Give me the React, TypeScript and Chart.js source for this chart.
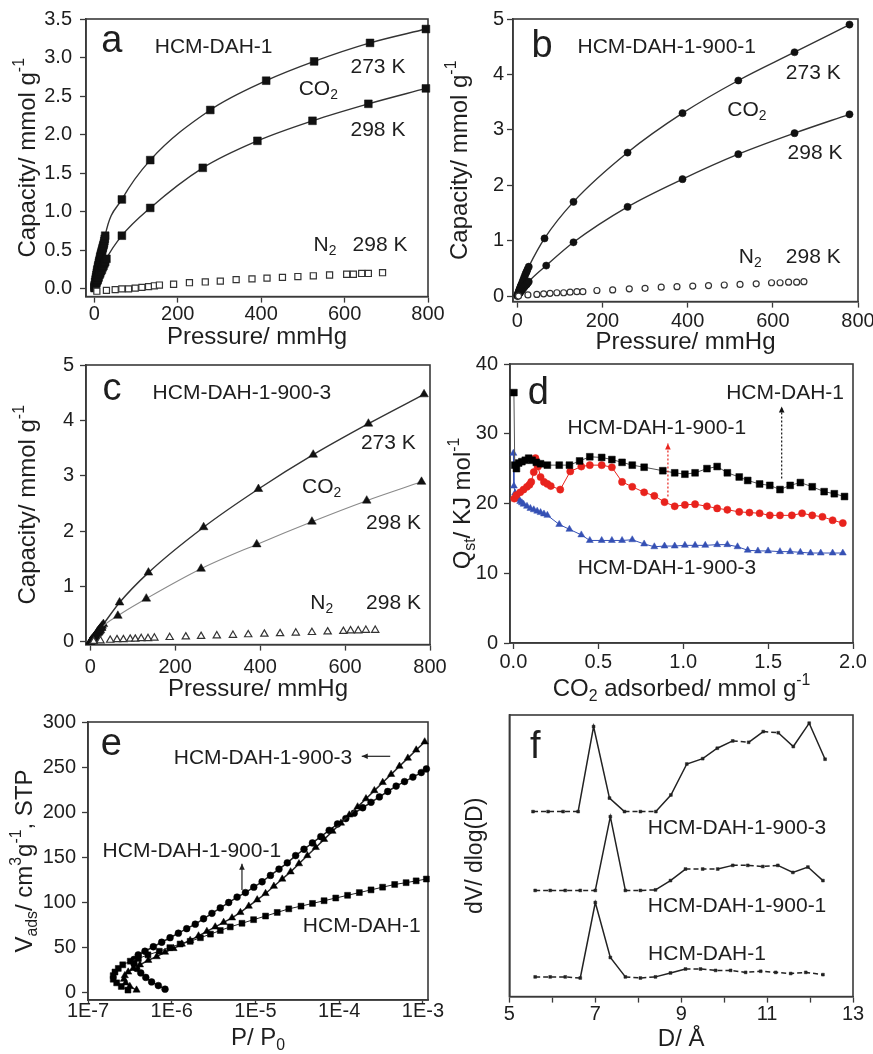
import React, { useEffect, useRef } from 'react';
import { Chart, registerables } from 'chart.js';

Chart.register(...registerables);

const FONT = '"Liberation Sans", Arial, Helvetica, sans-serif';
const INK = '#1e1e1e';
const AXIS = '#3a3a3a';
const RED = '#e8231d';
const BLUE = '#3550b4';

// ---------- Panel a : HCM-DAH-1 ----------
const a273P = [0.5, 1, 2, 3, 4, 5, 6, 7, 8, 9, 10, 11, 12, 13, 14, 15, 16, 17, 18, 19, 20, 21, 22, 23, 24, 25, 26, 66, 134, 278, 412, 527, 661, 795];
const a273Q = [0.03, 0.05, 0.09, 0.12, 0.15, 0.18, 0.21, 0.24, 0.26, 0.29, 0.31, 0.34, 0.36, 0.38, 0.41, 0.43, 0.45, 0.47, 0.49, 0.51, 0.53, 0.55, 0.57, 0.59, 0.62, 0.65, 0.69, 1.16, 1.67, 2.32, 2.70, 2.95, 3.19, 3.37];
const a298P = [0.5, 1, 2, 3, 4, 5, 6, 7, 8, 9, 10, 12, 14, 16, 18, 20, 22, 24, 26, 29, 66, 134, 260, 391, 523, 657, 795];
const a298Q = [0.01, 0.02, 0.04, 0.05, 0.07, 0.08, 0.1, 0.11, 0.12, 0.14, 0.15, 0.18, 0.2, 0.23, 0.25, 0.28, 0.3, 0.33, 0.35, 0.39, 0.69, 1.05, 1.57, 1.92, 2.18, 2.40, 2.60];
const aN2P = [6, 29, 50, 66, 82, 98, 114, 130, 144, 156, 190, 228, 266, 302, 340, 378, 414, 451, 488, 525, 564, 605, 621, 641, 657, 691];
const aN2Q = [-0.03, -0.02, -0.01, 0.0, 0.0, 0.01, 0.02, 0.03, 0.04, 0.05, 0.06, 0.08, 0.09, 0.1, 0.12, 0.13, 0.14, 0.15, 0.16, 0.17, 0.18, 0.19, 0.19, 0.2, 0.2, 0.21];
const aYTicks = [0, 0.5, 1, 1.5, 2, 2.5, 3, 3.5];
const aYLabels = ['0.0', '0.5', '1.0', '1.5', '2.0', '2.5', '3.0', '3.5'];
const pressureTicks = [0, 200, 400, 600, 800];
const pressureLabels = ['0', '200', '400', '600', '800'];

// ---------- Panel b : HCM-DAH-1-900-1 ----------
const b273P = [0.5, 1, 2, 3, 4, 5, 6, 7, 8, 9, 10, 12, 14, 16, 18, 20, 22, 24, 27, 64, 132, 259, 388, 519, 651, 780];
const b273Q = [0.01, 0.03, 0.05, 0.07, 0.09, 0.11, 0.13, 0.15, 0.17, 0.19, 0.21, 0.25, 0.29, 0.33, 0.37, 0.41, 0.44, 0.48, 0.53, 1.04, 1.70, 2.59, 3.30, 3.89, 4.40, 4.90];
const b298P = [0.5, 1, 2, 3, 4, 5, 6, 8, 10, 12, 14, 16, 18, 20, 22, 24, 27, 68, 132, 259, 388, 519, 651, 780];
const b298Q = [0.0, 0.01, 0.02, 0.03, 0.04, 0.05, 0.06, 0.08, 0.1, 0.12, 0.14, 0.16, 0.18, 0.2, 0.21, 0.23, 0.26, 0.55, 0.97, 1.61, 2.11, 2.56, 2.94, 3.28];
const bN2P = [3, 25, 46, 62, 77, 93, 109, 124, 140, 154, 187, 224, 263, 300, 338, 375, 412, 449, 486, 523, 561, 597, 617, 637, 656, 673];
const bN2Q = [0.0, 0.02, 0.03, 0.04, 0.05, 0.06, 0.06, 0.07, 0.08, 0.08, 0.1, 0.11, 0.13, 0.14, 0.16, 0.17, 0.18, 0.19, 0.2, 0.21, 0.22, 0.24, 0.24, 0.25, 0.25, 0.26];
const capTicks = [0, 1, 2, 3, 4, 5];
const capLabels = ['0', '1', '2', '3', '4', '5'];

// ---------- Panel c : HCM-DAH-1-900-3 ----------
const c273P = [0.5, 1, 2, 3, 4, 5, 6, 8, 10, 12, 14, 16, 18, 20, 22, 24, 26, 28, 31, 69, 137, 267, 396, 525, 655, 786];
const c273Q = [0.0, 0.01, 0.02, 0.03, 0.04, 0.05, 0.06, 0.08, 0.1, 0.12, 0.14, 0.17, 0.19, 0.21, 0.23, 0.25, 0.27, 0.29, 0.32, 0.71, 1.25, 2.07, 2.76, 3.38, 3.94, 4.47];
const c298P = [0.5, 1, 2, 4, 6, 8, 10, 12, 14, 16, 18, 20, 22, 24, 27, 65, 132, 261, 392, 522, 651, 780];
const c298Q = [0.0, 0.01, 0.02, 0.03, 0.05, 0.07, 0.09, 0.1, 0.12, 0.14, 0.16, 0.17, 0.19, 0.21, 0.25, 0.47, 0.78, 1.32, 1.76, 2.17, 2.55, 2.89];
const cN2P = [8, 24, 47, 63, 78, 94, 106, 120, 136, 151, 187, 225, 261, 298, 336, 372, 410, 447, 484, 522, 559, 596, 613, 631, 649, 671];
const cN2Q = [0.01, 0.02, 0.03, 0.04, 0.04, 0.05, 0.05, 0.06, 0.06, 0.07, 0.08, 0.09, 0.1, 0.11, 0.12, 0.13, 0.14, 0.15, 0.16, 0.17, 0.18, 0.19, 0.2, 0.2, 0.21, 0.21];

// ---------- Panel d : isosteric heat ----------
const dDahX = [0.003, 0.008, 0.018, 0.031, 0.05, 0.07, 0.09, 0.11, 0.135, 0.16, 0.2, 0.27, 0.33, 0.39, 0.45, 0.52, 0.58, 0.64, 0.70, 0.77, 0.88, 0.95, 1.01, 1.07, 1.14, 1.20, 1.26, 1.33, 1.38, 1.45, 1.51, 1.57, 1.63, 1.69, 1.76, 1.83, 1.89, 1.95];
const dDahQ = [35.9, 25.5, 25.0, 25.8, 26.0, 26.2, 26.5, 26.2, 25.9, 25.7, 25.5, 25.5, 25.5, 26.1, 26.7, 26.6, 26.3, 25.9, 25.5, 25.2, 24.7, 24.4, 24.2, 24.4, 25.0, 25.3, 24.4, 23.8, 23.3, 22.8, 22.6, 22.0, 22.6, 23.0, 22.4, 21.7, 21.4, 21.0];
const d901X = [0.005, 0.018, 0.04, 0.06, 0.08, 0.095, 0.105, 0.12, 0.13, 0.145, 0.16, 0.18, 0.2, 0.22, 0.276, 0.335, 0.40, 0.45, 0.52, 0.58, 0.64, 0.70, 0.77, 0.83, 0.89, 0.95, 1.01, 1.07, 1.14, 1.20, 1.26, 1.33, 1.39, 1.45, 1.51, 1.57, 1.64, 1.70, 1.76, 1.82, 1.88, 1.94];
const d901Q = [20.7, 21.2, 21.6, 22.0, 22.4, 22.7, 23.1, 24.5, 26.5, 25.3, 23.8, 23.1, 22.8, 22.5, 22.0, 24.6, 25.3, 25.5, 25.5, 25.2, 23.1, 22.4, 21.6, 21.1, 20.2, 19.6, 19.8, 19.9, 19.6, 19.3, 19.1, 18.8, 18.7, 18.6, 18.3, 18.3, 18.3, 18.6, 18.3, 18.1, 17.6, 17.2];
const d903X = [0.0, 0.003, 0.01, 0.02, 0.03, 0.04, 0.05, 0.06, 0.08, 0.1, 0.12, 0.14, 0.16, 0.18, 0.2, 0.27, 0.33, 0.40, 0.45, 0.52, 0.58, 0.64, 0.70, 0.77, 0.83, 0.89, 0.95, 1.01, 1.07, 1.13, 1.20, 1.26, 1.32, 1.38, 1.44, 1.50, 1.57, 1.63, 1.69, 1.75, 1.81, 1.88, 1.94];
const d903Q = [27.2, 22.5, 21.5, 21.0, 20.6, 20.3, 20.1, 19.9, 19.6, 19.3, 19.1, 18.9, 18.7, 18.5, 18.3, 17.0, 16.3, 15.5, 14.7, 14.7, 14.7, 14.7, 14.8, 14.2, 13.8, 13.9, 13.9, 14.0, 14.0, 14.0, 14.1, 14.1, 13.8, 13.3, 13.2, 13.2, 13.1, 13.1, 13.0, 12.9, 12.9, 12.9, 12.9];
const dYTicks = [0, 10, 20, 30, 40];
const dYLabels = ['0', '10', '20', '30', '40'];
const dXTicks = [0, 0.5, 1, 1.5, 2];
const dXLabels = ['0.0', '0.5', '1.0', '1.5', '2.0'];

// ---------- Panel e : low-pressure N2 isotherms (log P) ----------
const eDahP = [3.0e-7, 2.5e-7, 2.2e-7, 2.0e-7, 2.0e-7, 2.1e-7, 2.3e-7, 2.6e-7, 3.2e-7, 4.0e-7, 5.2e-7, 7.1e-7, 9.5e-7, 1.26e-6, 1.66e-6, 2.2e-6, 2.9e-6, 3.8e-6, 5.0e-6, 6.9e-6, 9.5e-6, 1.32e-5, 1.82e-5, 2.5e-5, 3.5e-5, 4.8e-5, 6.6e-5, 9.1e-5, 1.26e-4, 1.74e-4, 2.4e-4, 3.3e-4, 4.6e-4, 6.3e-4, 8.3e-4, 1.1e-3];
const eDahV = [3, 7, 11, 15, 19, 23, 27, 31, 35, 38, 42, 46, 50, 54, 57, 61, 65, 69, 73, 77, 81, 85, 89, 93, 96, 99, 102, 105, 108, 111, 114, 117, 120, 122, 124, 126];
const e901P = [8.32e-7, 6.92e-7, 5.75e-7, 4.9e-7, 4.27e-7, 3.8e-7, 3.55e-7, 3.55e-7, 3.98e-7, 4.79e-7, 6.03e-7, 7.59e-7, 9.55e-7, 1.2e-6, 1.51e-6, 1.91e-6, 2.4e-6, 3.02e-6, 3.8e-6, 4.79e-6, 6.03e-6, 7.59e-6, 9.55e-6, 1.2e-5, 1.51e-5, 1.91e-5, 2.4e-5, 3.02e-5, 3.8e-5, 4.79e-5, 6.03e-5, 7.59e-5, 9.55e-5, 1.2e-4, 1.51e-4, 1.91e-4, 2.4e-4, 3.02e-4, 3.8e-4, 4.79e-4, 6.03e-4, 7.59e-4, 9.55e-4, 1.1e-3];
const e901V = [4, 8, 12, 17, 22, 27, 32, 37, 42, 46, 51, 56, 61, 66, 71, 76, 82, 88, 94, 100, 106, 111, 117, 123, 130, 137, 144, 152, 159, 166, 173, 180, 187, 193, 199, 205, 211, 217, 223, 229, 234, 239, 244, 248];
const e903P = [3.8e-7, 3.16e-7, 2.82e-7, 2.69e-7, 2.75e-7, 3.02e-7, 3.47e-7, 4.17e-7, 5.25e-7, 6.61e-7, 8.32e-7, 1.05e-6, 1.32e-6, 1.66e-6, 2.09e-6, 2.63e-6, 3.31e-6, 4.17e-6, 5.25e-6, 6.61e-6, 8.32e-6, 1.05e-5, 1.32e-5, 1.66e-5, 2.09e-5, 2.63e-5, 3.31e-5, 4.17e-5, 5.25e-5, 6.61e-5, 8.32e-5, 1.05e-4, 1.32e-4, 1.66e-4, 2.09e-4, 2.63e-4, 3.31e-4, 4.17e-4, 5.25e-4, 6.61e-4, 8.32e-4, 1.05e-3];
const e903V = [3, 7, 11, 15, 19, 23, 27, 31, 36, 40, 45, 49, 54, 58, 63, 68, 73, 78, 83, 89, 96, 103, 110, 118, 126, 134, 143, 152, 161, 170, 179, 188, 197, 206, 215, 224, 233, 242, 251, 260, 269, 278];
const eXTicks = [1e-7, 1e-6, 1e-5, 1e-4, 1e-3];
const eXLabels = ['1E-7', '1E-6', '1E-5', '1E-4', '1E-3'];
const eYTicks = [0, 50, 100, 150, 200, 250, 300];
const eYLabels = ['0', '50', '100', '150', '200', '250', '300'];

// ---------- Panel f : pore size distribution ----------
const f903D = [5.55, 5.9, 6.25, 6.6, 6.96, 7.33, 7.68, 8.05, 8.41, 8.76, 9.13, 9.5, 9.84, 10.2, 10.57, 10.91, 11.26, 11.61, 11.98, 12.35];
const f903V = [65.7, 65.7, 65.7, 65.7, 95.9, 70.5, 65.7, 65.7, 65.7, 71.6, 82.6, 84.5, 88.2, 90.8, 90.3, 94.1, 93.7, 88.8, 97.1, 84.3];
const f901D = [5.6, 5.95, 6.3, 6.65, 7.0, 7.35, 7.7, 8.05, 8.4, 8.75, 9.1, 9.5, 9.85, 10.2, 10.55, 10.9, 11.25, 11.6, 11.95, 12.3];
const f901V = [37.7, 37.7, 37.7, 37.7, 37.7, 63.9, 37.7, 37.7, 37.9, 41.2, 45.3, 45.3, 45.3, 46.6, 46.6, 46.2, 46.6, 44.1, 46.0, 41.2];
const fDahD = [5.6, 5.95, 6.3, 6.65, 7.0, 7.35, 7.7, 8.05, 8.4, 8.75, 9.1, 9.45, 9.8, 10.15, 10.5, 10.85, 11.2, 11.55, 11.9, 12.3];
const fDahV = [7.0, 7.0, 7.0, 6.6, 33.4, 13.9, 7.0, 6.6, 7.0, 8.4, 9.8, 9.8, 9.3, 9.3, 8.6, 9.0, 8.6, 8.2, 8.6, 7.8];
const fXTicks = [5, 6, 7, 8, 9, 10, 11, 12, 13];
const fXLabels = ['5', '', '7', '', '9', '', '11', '', '13'];

// ---------- helpers ----------
const pts = (xs: number[], ys: number[]) => xs.map((x, i) => ({ x, y: ys[i] }));

type Seg = { t: string; k: number };
function parseRich(s: string): Seg[] {
  const out: Seg[] = [];
  const re = /([_^])\{([^}]*)\}/g;
  let last = 0;
  let m: RegExpExecArray | null;
  while ((m = re.exec(s))) {
    if (m.index > last) out.push({ t: s.slice(last, m.index), k: 0 });
    out.push({ t: m[2], k: m[1] === '_' ? -1 : 1 });
    last = re.lastIndex;
  }
  if (last < s.length) out.push({ t: s.slice(last), k: 0 });
  return out;
}

function drawRich(ctx: CanvasRenderingContext2D, text: string, x: number, y: number, size: number, rot = 0, color = INK) {
  const segs = parseRich(text);
  const small = size * 0.66;
  ctx.save();
  ctx.translate(x, y);
  ctx.rotate(rot);
  ctx.fillStyle = color;
  ctx.textBaseline = 'middle';
  ctx.textAlign = 'left';
  let total = 0;
  const widths = segs.map((sg) => {
    ctx.font = `${sg.k ? small : size}px ${FONT}`;
    const w = ctx.measureText(sg.t).width;
    total += w;
    return w;
  });
  let cx = -total / 2;
  segs.forEach((sg, i) => {
    ctx.font = `${sg.k ? small : size}px ${FONT}`;
    const dy = sg.k === -1 ? size * 0.3 : sg.k === 1 ? -size * 0.36 : 0;
    ctx.fillText(sg.t, cx, dy);
    cx += widths[i];
  });
  ctx.restore();
}

type Note = { x: number; y: number; text: string; size?: number; color?: string };
type Arrow = { x0: number; y0: number; x1: number; y1: number; color: string; dash?: number[] };
type Overlay = {
  notes: Note[];
  arrows?: Arrow[];
  yTitle?: { text: string; offset: number };
  xTitle?: { text: string; offset: number };
};

function overlayPlugin(ov: Overlay) {
  return {
    id: 'overlay',
    beforeDatasetsDraw(chart: any) {
      const { ctx, chartArea: ca } = chart;
      ctx.save();
      ctx.strokeStyle = AXIS;
      ctx.lineWidth = 1.6;
      ctx.strokeRect(ca.left, ca.top, ca.right - ca.left, ca.bottom - ca.top);
      ctx.restore();
    },
    afterDatasetsDraw(chart: any) {
      const { ctx, chartArea: ca, scales } = chart;
      const xs = scales.x;
      const ys = scales.y;
      (ov.arrows || []).forEach((a) => {
        const x0 = xs.getPixelForValue(a.x0);
        const y0 = ys.getPixelForValue(a.y0);
        const x1 = xs.getPixelForValue(a.x1);
        const y1 = ys.getPixelForValue(a.y1);
        ctx.save();
        ctx.strokeStyle = a.color;
        ctx.fillStyle = a.color;
        ctx.lineWidth = 1.2;
        ctx.setLineDash(a.dash || []);
        ctx.beginPath();
        ctx.moveTo(x0, y0);
        ctx.lineTo(x1, y1);
        ctx.stroke();
        ctx.setLineDash([]);
        const ang = Math.atan2(y1 - y0, x1 - x0);
        const L = 6;
        const Wd = 2.8;
        ctx.beginPath();
        ctx.moveTo(x1, y1);
        ctx.lineTo(x1 - L * Math.cos(ang) + Wd * Math.sin(ang), y1 - L * Math.sin(ang) - Wd * Math.cos(ang));
        ctx.lineTo(x1 - L * Math.cos(ang) - Wd * Math.sin(ang), y1 - L * Math.sin(ang) + Wd * Math.cos(ang));
        ctx.closePath();
        ctx.fill();
        ctx.restore();
      });
      ov.notes.forEach((n) => {
        drawRich(ctx, n.text, xs.getPixelForValue(n.x), ys.getPixelForValue(n.y), n.size || 21, 0, n.color || INK);
      });
      if (ov.yTitle) {
        drawRich(ctx, ov.yTitle.text, ca.left - ov.yTitle.offset, (ca.top + ca.bottom) / 2, 24, -Math.PI / 2);
      }
      if (ov.xTitle) {
        drawRich(ctx, ov.xTitle.text, (ca.left + ca.right) / 2, ca.bottom + ov.xTitle.offset, 24, 0);
      }
    },
  };
}

type AxisOpt = {
  type?: string;
  min: number;
  max: number;
  vals: number[];
  labels?: string[];
  pad?: number;
  tickLen?: number;
  title?: string;
};

function axis(o: AxisOpt) {
  const tl = o.tickLen ?? 6;
  return {
    type: o.type || 'linear',
    min: o.min,
    max: o.max,
    afterBuildTicks: (s: any) => {
      s.ticks = o.vals.map((v) => ({ value: v }));
    },
    ticks: {
      display: !!o.labels,
      callback: (_v: any, i: number) => (o.labels ? o.labels[i] : ''),
      font: { family: FONT, size: 20 },
      color: INK,
      padding: o.pad ?? 3,
      maxRotation: 0,
      autoSkip: false,
      includeBounds: false,
    },
    grid: {
      display: true,
      drawOnChartArea: false,
      drawTicks: tl > 0,
      tickLength: tl,
      tickColor: AXIS,
      tickWidth: 1.3,
    },
    border: { display: true, color: AXIS, width: 1.6 },
    title: o.title
      ? { display: true, text: o.title, font: { family: FONT, size: 24 }, color: INK, padding: 0 }
      : { display: false },
  };
}

const filled = (style: string, r: number, color = '#111') => ({
  pointStyle: style,
  pointRadius: r,
  pointBackgroundColor: color,
  pointBorderColor: color,
  pointBorderWidth: 0.5,
});
const hollow = (style: string, r: number) => ({
  pointStyle: style,
  pointRadius: r,
  pointBackgroundColor: '#fff',
  pointBorderColor: '#333',
  pointBorderWidth: 1.2,
});

function isoConfig(
  style: string,
  rFill: number,
  rOpen: number,
  s273: { x: number; y: number }[],
  s298: { x: number; y: number }[],
  sN2: { x: number; y: number }[],
  yOpt: AxisOpt,
  xOpt: AxisOpt,
  ov: Overlay,
  c298 = '#333',
  w298 = 1.4
) {
  return {
    type: 'scatter',
    data: {
      datasets: [
        { data: sN2, showLine: false, clip: false, ...hollow(style, rOpen) },
        {
          data: s298, showLine: true, clip: false, borderColor: c298, borderWidth: w298,
          cubicInterpolationMode: 'monotone', ...filled(style, rFill),
        },
        {
          data: s273, showLine: true, clip: false, borderColor: '#333', borderWidth: 1.4,
          cubicInterpolationMode: 'monotone', ...filled(style, rFill),
        },
      ],
    },
    options: { scales: { x: axis(xOpt), y: axis(yOpt) } },
    plugins: [overlayPlugin(ov)],
  };
}

type Spec = { L: number; T: number; R: number; B: number; W: number; H: number; build: () => any };

const PADT = 20;
const PADR = 30;
const PADB = 4;

function Panel({ spec }: { spec: Spec }) {
  const ref = useRef<HTMLCanvasElement>(null);
  const width = Math.round(spec.W + (spec.R - spec.L) + PADR);
  const height = Math.round(PADT + (spec.B - spec.T) + spec.H + PADB);
  useEffect(() => {
    const cfg = spec.build();
    cfg.options = {
      ...cfg.options,
      responsive: false,
      maintainAspectRatio: false,
      animation: false,
      devicePixelRatio: 1,
      events: [],
      layout: { padding: { top: PADT, right: PADR, bottom: PADB, left: 0 } },
      plugins: { legend: { display: false }, tooltip: { enabled: false } },
    };
    cfg.options.scales.x.afterFit = (s: any) => {
      s.height = spec.H;
    };
    cfg.options.scales.y.afterFit = (s: any) => {
      s.width = spec.W;
    };
    const chart = new Chart(ref.current as HTMLCanvasElement, cfg);
    return () => chart.destroy();
  }, []);
  return (
    <canvas
      ref={ref}
      width={width}
      height={height}
      style={{ position: 'absolute', left: Math.round(spec.L - spec.W), top: spec.T - PADT, width, height }}
    />
  );
}

const CAP = 'Capacity/ mmol g^{-1}';

const specs: Spec[] = [
  {
    L: 86, T: 19, R: 428, B: 297, W: 80, H: 55.4,
    build: () =>
      isoConfig(
        'rect', 5.5, 4.3,
        pts(a273P, a273Q), pts(a298P, a298Q), pts(aN2P, aN2Q),
        { min: -0.1, max: 3.5, vals: aYTicks, labels: aYLabels, pad: 8 },
        { min: -20, max: 800, vals: pressureTicks, labels: pressureLabels, pad: 0, title: 'Pressure/ mmHg' },
        {
          yTitle: { text: CAP, offset: 58 },
          notes: [
            { x: 42, y: 3.21, text: 'a', size: 38 },
            { x: 286, y: 3.14, text: 'HCM-DAH-1' },
            { x: 680, y: 2.88, text: '273 K' },
            { x: 537, y: 2.59, text: 'CO_{2}' },
            { x: 680, y: 2.06, text: '298 K' },
            { x: 553, y: 0.57, text: 'N_{2}' },
            { x: 685, y: 0.57, text: '298 K' },
          ],
        }
      ),
  },
  {
    L: 513, T: 19, R: 858, B: 302, W: 80, H: 55.4,
    build: () =>
      isoConfig(
        'circle', 3.6, 3.0,
        pts(b273P, b273Q), pts(b298P, b298Q), pts(bN2P, bN2Q),
        { min: -0.1, max: 5, vals: capTicks, labels: capLabels, pad: 3 },
        { min: -10, max: 800, vals: pressureTicks, labels: pressureLabels, pad: 2, title: 'Pressure/ mmHg' },
        {
          yTitle: { text: CAP, offset: 53 },
          notes: [
            { x: 58, y: 4.5, text: 'b', size: 38 },
            { x: 351, y: 4.5, text: 'HCM-DAH-1-900-1' },
            { x: 695, y: 4.02, text: '273 K' },
            { x: 539, y: 3.36, text: 'CO_{2}' },
            { x: 699, y: 2.58, text: '298 K' },
            { x: 547, y: 0.71, text: 'N_{2}' },
            { x: 695, y: 0.71, text: '298 K' },
          ],
        }
      ),
  },
  {
    L: 86, T: 365, R: 430, B: 645, W: 80, H: 59.4,
    build: () =>
      isoConfig(
        'triangle', 5, 4.2,
        pts(c273P, c273Q), pts(c298P, c298Q), pts(cN2P, cN2Q),
        { min: -0.05, max: 5, vals: capTicks, labels: capLabels, pad: 6 },
        { min: -10, max: 800, vals: pressureTicks, labels: pressureLabels, pad: 5, title: 'Pressure/ mmHg' },
        {
          yTitle: { text: CAP, offset: 58 },
          notes: [
            { x: 51, y: 4.55, text: 'c', size: 38 },
            { x: 357, y: 4.49, text: 'HCM-DAH-1-900-3' },
            { x: 702, y: 3.59, text: '273 K' },
            { x: 545, y: 2.8, text: 'CO_{2}' },
            { x: 714, y: 2.14, text: '298 K' },
            { x: 545, y: 0.7, text: 'N_{2}' },
            { x: 714, y: 0.7, text: '298 K' },
          ],
        },
        '#8a8a8a',
        1.1
      ),
  },
  {
    L: 510, T: 364, R: 853, B: 643, W: 80, H: 60,
    build: () => ({
      type: 'scatter',
      data: {
        datasets: [
          {
            data: pts(dDahX, dDahQ), showLine: true, clip: false, borderColor: '#555', borderWidth: 1,
            ...filled('rect', 4.8, '#000'),
          },
          {
            data: pts(d901X, d901Q), showLine: true, clip: false, borderColor: RED, borderWidth: 1,
            ...filled('circle', 3.6, RED),
          },
          {
            data: pts(d903X, d903Q), showLine: true, clip: false, borderColor: BLUE, borderWidth: 1,
            ...filled('triangle', 4, BLUE),
          },
        ],
      },
      options: {
        scales: {
          x: axis({ min: -0.02, max: 2, vals: dXTicks, labels: dXLabels, pad: 1 }),
          y: axis({ min: 0, max: 40, vals: dYTicks, labels: dYLabels, pad: 6 }),
        },
      },
      plugins: [
        overlayPlugin({
          yTitle: { text: 'Q_{st}/ KJ mol^{-1}', offset: 47 },
          xTitle: { text: 'CO_{2} adsorbed/ mmol g^{-1}', offset: 46 },
          notes: [
            { x: 0.147, y: 35.8, text: 'd', size: 38 },
            { x: 1.6, y: 35.8, text: 'HCM-DAH-1' },
            { x: 0.845, y: 30.8, text: 'HCM-DAH-1-900-1' },
            { x: 0.904, y: 10.7, text: 'HCM-DAH-1-900-3' },
          ],
          arrows: [
            { x0: 1.58, y0: 23.6, x1: 1.58, y1: 33.9, color: '#111', dash: [2, 2] },
            { x0: 0.91, y0: 21, x1: 0.91, y1: 28.6, color: RED, dash: [2, 2] },
          ],
        }),
      ],
    }),
  },
  {
    L: 88, T: 722, R: 428, B: 1000, W: 80, H: 50,
    build: () => ({
      type: 'scatter',
      data: {
        datasets: [
          {
            data: pts(eDahP, eDahV), showLine: true, clip: false, borderColor: '#222', borderWidth: 1,
            ...filled('rect', 4.2, '#000'),
          },
          {
            data: pts(e903P, e903V), showLine: true, clip: false, borderColor: '#222', borderWidth: 1.5,
            ...filled('triangle', 4.2, '#000'),
          },
          {
            data: pts(e901P, e901V), showLine: true, clip: false, borderColor: '#222', borderWidth: 1.5,
            ...filled('circle', 3.4, '#000'),
          },
        ],
      },
      options: {
        scales: {
          x: axis({ type: 'logarithmic', min: 1e-7, max: 1.15e-3, vals: eXTicks, labels: eXLabels, pad: -5, tickLen: 4 }),
          y: axis({ min: -8, max: 300, vals: eYTicks, labels: eYLabels, pad: 6 }),
        },
      },
      plugins: [
        overlayPlugin({
          yTitle: { text: 'V_{ads}/ cm^{3}g^{-1}, STP', offset: 63 },
          xTitle: { text: 'P/ P_{0}', offset: 38 },
          notes: [
            { x: 1.9e-7, y: 275, text: 'e', size: 38 },
            { x: 1.23e-5, y: 260, text: 'HCM-DAH-1-900-3' },
            { x: 1.74e-6, y: 157, text: 'HCM-DAH-1-900-1' },
            { x: 1.86e-4, y: 74, text: 'HCM-DAH-1' },
          ],
          arrows: [
            { x0: 4.07e-4, y0: 262, x1: 1.86e-4, y1: 262, color: '#222' },
            { x0: 6.9e-6, y0: 114, x1: 6.9e-6, y1: 143, color: '#222' },
          ],
        }),
      ],
    }),
  },
  {
    L: 509, T: 715, R: 853, B: 997, W: 47.4, H: 57.4,
    build: () => {
      const seg = {
        borderDash: (c: any) => (Math.abs(c.p0.parsed.y - c.p1.parsed.y) < 1 ? [5, 3] : undefined),
      };
      const ds = (d: number[], v: number[]) => ({
        data: pts(d, v), showLine: true, clip: false, borderColor: '#222', borderWidth: 1.5,
        segment: seg, ...filled('rect', 2, '#222'),
      });
      const yAx: any = axis({ min: 0, max: 100, vals: [0, 100], tickLen: 0 });
      yAx.title = { display: true, text: 'dV/ dlog(D)', font: { family: FONT, size: 23 }, color: INK, padding: 0 };
      return {
        type: 'scatter',
        data: { datasets: [ds(f903D, f903V), ds(f901D, f901V), ds(fDahD, fDahV)] },
        options: {
          scales: {
            x: axis({ min: 5, max: 13, vals: fXTicks, labels: fXLabels, pad: 0, title: 'D/ Å' }),
            y: yAx,
          },
        },
        plugins: [
          overlayPlugin({
            notes: [
              { x: 5.6, y: 88.3, text: 'f', size: 38 },
              { x: 10.3, y: 59.8, text: 'HCM-DAH-1-900-3' },
              { x: 10.3, y: 32, text: 'HCM-DAH-1-900-1' },
              { x: 9.6, y: 14.9, text: 'HCM-DAH-1' },
            ],
          }),
        ],
      };
    },
  },
];

export default function App() {
  return (
    <div style={{ position: 'absolute', left: 0, top: 0, width: 873, height: 1054, background: '#fff', overflow: 'hidden' }}>
      {specs.map((s, i) => (
        <Panel key={i} spec={s} />
      ))}
    </div>
  );
}
